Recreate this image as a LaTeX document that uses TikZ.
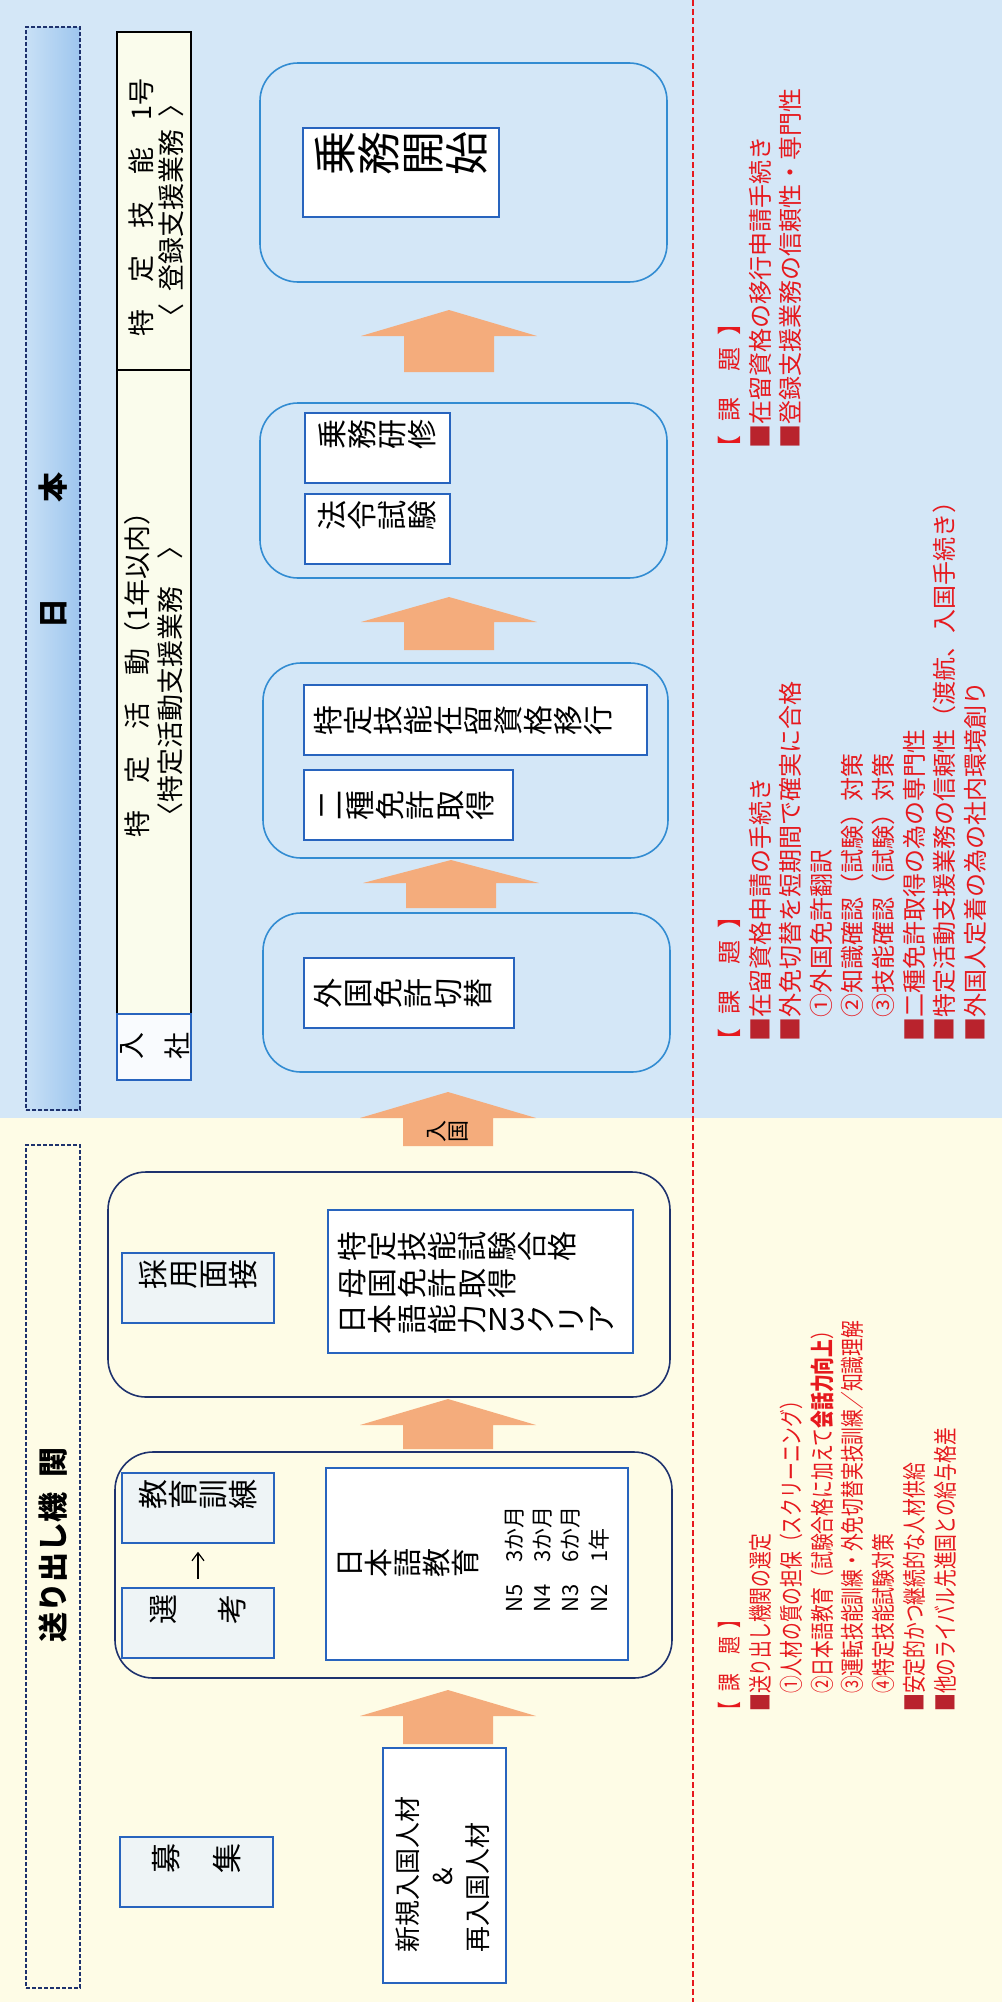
\documentclass[tikz,border=0pt]{standalone}
\usepackage{fontspec}
\setmainfont{Noto Sans CJK JP}
\usetikzlibrary{fit,arrows.meta}
\definecolor{bluebg}{RGB}{212,231,247}
\definecolor{creambg}{RGB}{254,252,230}
\definecolor{hdrblue}{RGB}{158,198,238}
\definecolor{hdrlight}{RGB}{200,224,246}
\definecolor{navy}{RGB}{30,50,110}
\definecolor{boxblue}{RGB}{40,100,190}
\definecolor{oblue}{RGB}{50,140,210}
\definecolor{arrowc}{RGB}{244,172,124}
\definecolor{redtxt}{RGB}{230,25,30}
\definecolor{sqred}{RGB}{185,35,45}
\definecolor{cellfill}{RGB}{250,252,236}
\definecolor{grayfill}{RGB}{238,244,246}
\newcommand{\tchar}[1]{\rotatebox[origin=c]{90}{\rule[-0.12em]{0pt}{1em}\makebox[1em]{#1}}}
\def\tategaki#1{\tateloop#1\relax}
\def\tateloop#1{\ifx\relax#1\else\tchar{#1}\expandafter\tateloop\fi}
\newcommand{\sq}{{\color{sqred}■}}
\newcommand{\kadai}{\hspace{-0.45em}【\hspace{0.6em}課\hspace{1.08em}題\hspace{0.47em}】}
\newcommand{\cz}[1]{\scalebox{0.74}[1]{#1}}
\newcommand{\barrow}[4]{\fill[arrowc] (#1,#2) -- (#1+88,#3) -- (#1+45,#3) -- (#1+45,#4) -- (#1-45,#4) -- (#1-45,#3) -- (#1-88,#3) -- cycle;}
\begin{document}
\begin{tikzpicture}[x=0.5pt,y=-0.5pt,
  hdrbox/.style={draw=navy, line width=0.6pt, dash pattern=on 2pt off 1pt, inner sep=0},
  hdrtxt/.style={rotate=90, inner sep=0, font=\bfseries\fontsize{15pt}{18pt}\selectfont},
  cellbox/.style={draw=black, line width=0.6pt, fill=cellfill, inner sep=0},
  cellc/.style={draw=boxblue, line width=0.6pt, fill=white!85!bluebg, inner sep=0},
  celltxt/.style={rotate=90, anchor=west, inner sep=0, font=\fontsize{13.5pt}{16pt}\selectfont},
  oboxb/.style={draw=oblue, line width=0.8pt, rounded corners=19pt, inner sep=0},
  oboxc/.style={draw=navy, line width=0.8pt, rounded corners=19pt, inner sep=0},
  ibox/.style={draw=boxblue, line width=0.8pt, fill=white, inner sep=0, font=\fontsize{15pt}{18pt}\selectfont},
  gbox/.style={ibox, fill=grayfill},
  jtxt/.style={anchor=west, inner sep=0, font=\fontsize{15pt}{18pt}\selectfont},
  redl/.style={rotate=90, anchor=west, inner sep=0, text=redtxt, font=\fontsize{12pt}{14pt}\selectfont},
  ncol/.style={rotate=90, anchor=west, inner sep=0, font=\fontsize{11pt}{13pt}\selectfont},
  ptxt/.style={rotate=90, inner sep=0, font=\fontsize{13pt}{15pt}\selectfont}]
\useasboundingbox (0,0) rectangle (1002,2002);
\fill[bluebg] (0,0) rectangle (1002,1118);
\fill[creambg] (0,1118) rectangle (1002,2002);
\draw[redtxt, line width=0.8pt, dash pattern=on 3pt off 1.5pt] (693,0) -- (693,2002);

% headers
\node[hdrbox, fit={(26,27)(80,1110)}, left color=hdrlight, right color=hdrblue] (hjp) {};
\node[hdrtxt] (hjpt) at (53,550) {日\hspace{3.2em}本};
\node[hdrbox, fit={(26,1145)(80,1988)}, fill=creambg] (hso) {};
\node[hdrtxt] (hsot) at (53,1545) {送り出し機\hspace{0.5em}関};

% table
\node[cellbox, fit={(117,32)(191,370)}] (cA) {};
\node[cellbox, fit={(117,370)(191,1014)}] (cB) {};
\node[cellc, fit={(117,1014)(191,1080)}] (cC) {};
\node[celltxt] (cA1) at (141,337) {特　定　技　能　1号};
\node[celltxt] (cA2) at (171,331) {〈\hspace{0.45em}登録支援業務\hspace{0.45em}〉};
\node[celltxt] (cB1) at (137,838) {特　定　活　動（1年以内）};
\node[celltxt] (cB2) at (170,830) {〈特定活動支援業務　〉};
\node[inner sep=0, font=\fontsize{13.5pt}{16pt}\selectfont] (cC1) at (154,1046) {\tategaki{入}\hspace{0.7em}\tategaki{社}};

% outer rounded boxes
\node[oboxb, fit={(260,63)(667,282)}] (o1) {};
\node[oboxb, fit={(260,403)(667,578)}] (o2) {};
\node[oboxb, fit={(263,663)(668,858)}] (o3) {};
\node[oboxb, fit={(263,913)(670,1072)}] (o4) {};
\node[oboxc, fit={(108,1172)(670,1397)}] (o5) {};
\node[oboxc, fit={(115,1452)(672,1678)}] (o6) {};

% inner boxes (blue area)
\node[ibox, fit={(303,128)(499,217)}, font=\fontsize{22pt}{24pt}\selectfont] (kaishi) {\tategaki{乗務開始}};
\node[ibox, fit={(305,413)(450,483)}] (kenshu) {\tategaki{乗務研修}};
\node[ibox, fit={(305,494)(450,564)}] (horei) {\tategaki{法令試験}};
\node[ibox, fit={(304,685)(647,755)}] (ikou) {};
\node[jtxt] (ikout) at (313,720) {\tategaki{特定技能在留資格移行}};
\node[ibox, fit={(304,770)(513,840)}] (nishu) {};
\node[jtxt] (nishut) at (315,805) {\tategaki{二種免許取得}};
\node[ibox, fit={(304,958)(514,1028)}] (gaimen) {};
\node[jtxt] (gaiment) at (313,993) {\tategaki{外国免許切替}};

% inner boxes (cream area)
\node[gbox, fit={(122,1253)(274,1323)}] (saiyo) {\tategaki{採用面接}};
\node[ibox, fit={(328,1210)(633,1353)}] (big1) {};
\node[jtxt] (big1a) at (337,1246) {\tategaki{特定技能試験合格}};
\node[jtxt] (big1b) at (337,1283) {\tategaki{母国免許取得}};
\node[jtxt] (big1c) at (337,1319) {\tategaki{日本語能力}N3\tategaki{クリア}};
\node[gbox, fit={(122,1473)(274,1543)}] (kyoiku) {\tategaki{教育訓練}};
\node[gbox, fit={(122,1588)(274,1658)}] (senko) {\tategaki{選}\hspace{1.3em}\tategaki{考}};
\draw[-{Straight Barb[length=4pt,width=6pt]}, line width=0.6pt, shorten <=4pt, shorten >=4pt] (senko) -- (kyoiku);
\node[ibox, fit={(326,1468)(628,1660)}] (big2) {};
\node[jtxt, font=\fontsize{14.5pt}{17pt}\selectfont] (big2a) at (335,1563) {\tategaki{日本語教育}};
\node[ncol] (n5) at (515,1613) {N5　3か月};
\node[ncol] (n4) at (543,1613) {N4　3か月};
\node[ncol] (n3) at (571,1613) {N3　6か月};
\node[ncol] (n2) at (599,1613) {N2　1年};
\node[gbox, fit={(120,1837)(273,1907)}] (boshu) {\tategaki{募}\hspace{1.05em}\tategaki{集}};
\node[ibox, fit={(383,1748)(506,1983)}] (shinki) {};
\node[ptxt, anchor=west] (shinki1) at (408,1953) {新規入国人材};
\node[ptxt] (shinki2) at (443,1877) {\&};
\node[ptxt, anchor=west] (shinki3) at (478,1953) {再入国人材};

% block arrows
\barrow{449}{310}{336}{372}
\barrow{449}{597}{622}{650}
\barrow{451}{860}{883}{908}
\barrow{448}{1092}{1118}{1146}
\barrow{448}{1399}{1425}{1449}
\barrow{448}{1690}{1716}{1744}
\node[inner sep=0, font=\fontsize{11pt}{13pt}\selectfont] (nyukoku) at (447,1131) {\tategaki{入国}};

% red notes: top block
\node[redl] (t1) at (729,449) {\kadai};
\node[redl] (t2) at (760,449) {\sq 在留資格の移行申請手続き};
\node[redl] (t3) at (790,449) {\sq 登録支援業務の信頼性・専門性};

% red notes: middle block
\node[redl] (m1) at (729,1042) {\kadai};
\node[redl] (m2) at (760,1042) {\sq 在留資格申請の手続き};
\node[redl] (m3) at (790,1042) {\sq 外免切替を短期間で確実に合格};
\node[redl] (m4) at (821,1042) {　①外国免許翻訳};
\node[redl] (m5) at (852,1042) {　②知識確認（試験）対策};
\node[redl] (m6) at (883,1042) {　③技能確認（試験）対策};
\node[redl] (m7) at (914,1042) {\sq 二種免許取得の為の専門性};
\node[redl] (m8) at (944,1042) {\sq 特定活動支援業務の信頼性（渡航、入国手続き）};
\node[redl] (m9) at (975,1042) {\sq 外国人定着の為の社内環境創り};

% red notes: bottom block
\node[redl] (b1) at (729,1712) {\cz{\kadai}};
\node[redl] (b2) at (760,1712) {\cz{\sq 送り出し機関の選定}};
\node[redl] (b3) at (791,1712) {\cz{　①人材の質の担保（スクリーニング）}};
\node[redl] (b4) at (822,1712) {\cz{　②日本語教育（試験合格に加えて\textbf{会話力向上}）}};
\node[redl] (b5) at (852,1712) {\cz{　③運転技能訓練・外免切替実技訓練／知識理解}};
\node[redl] (b6) at (883,1712) {\cz{　④特定技能試験対策}};
\node[redl] (b7) at (914,1712) {\cz{\sq 安定的かつ継続的な人材供給}};
\node[redl] (b8) at (945,1712) {\cz{\sq 他のライバル先進国との給与格差}};
\end{tikzpicture}
\end{document}
